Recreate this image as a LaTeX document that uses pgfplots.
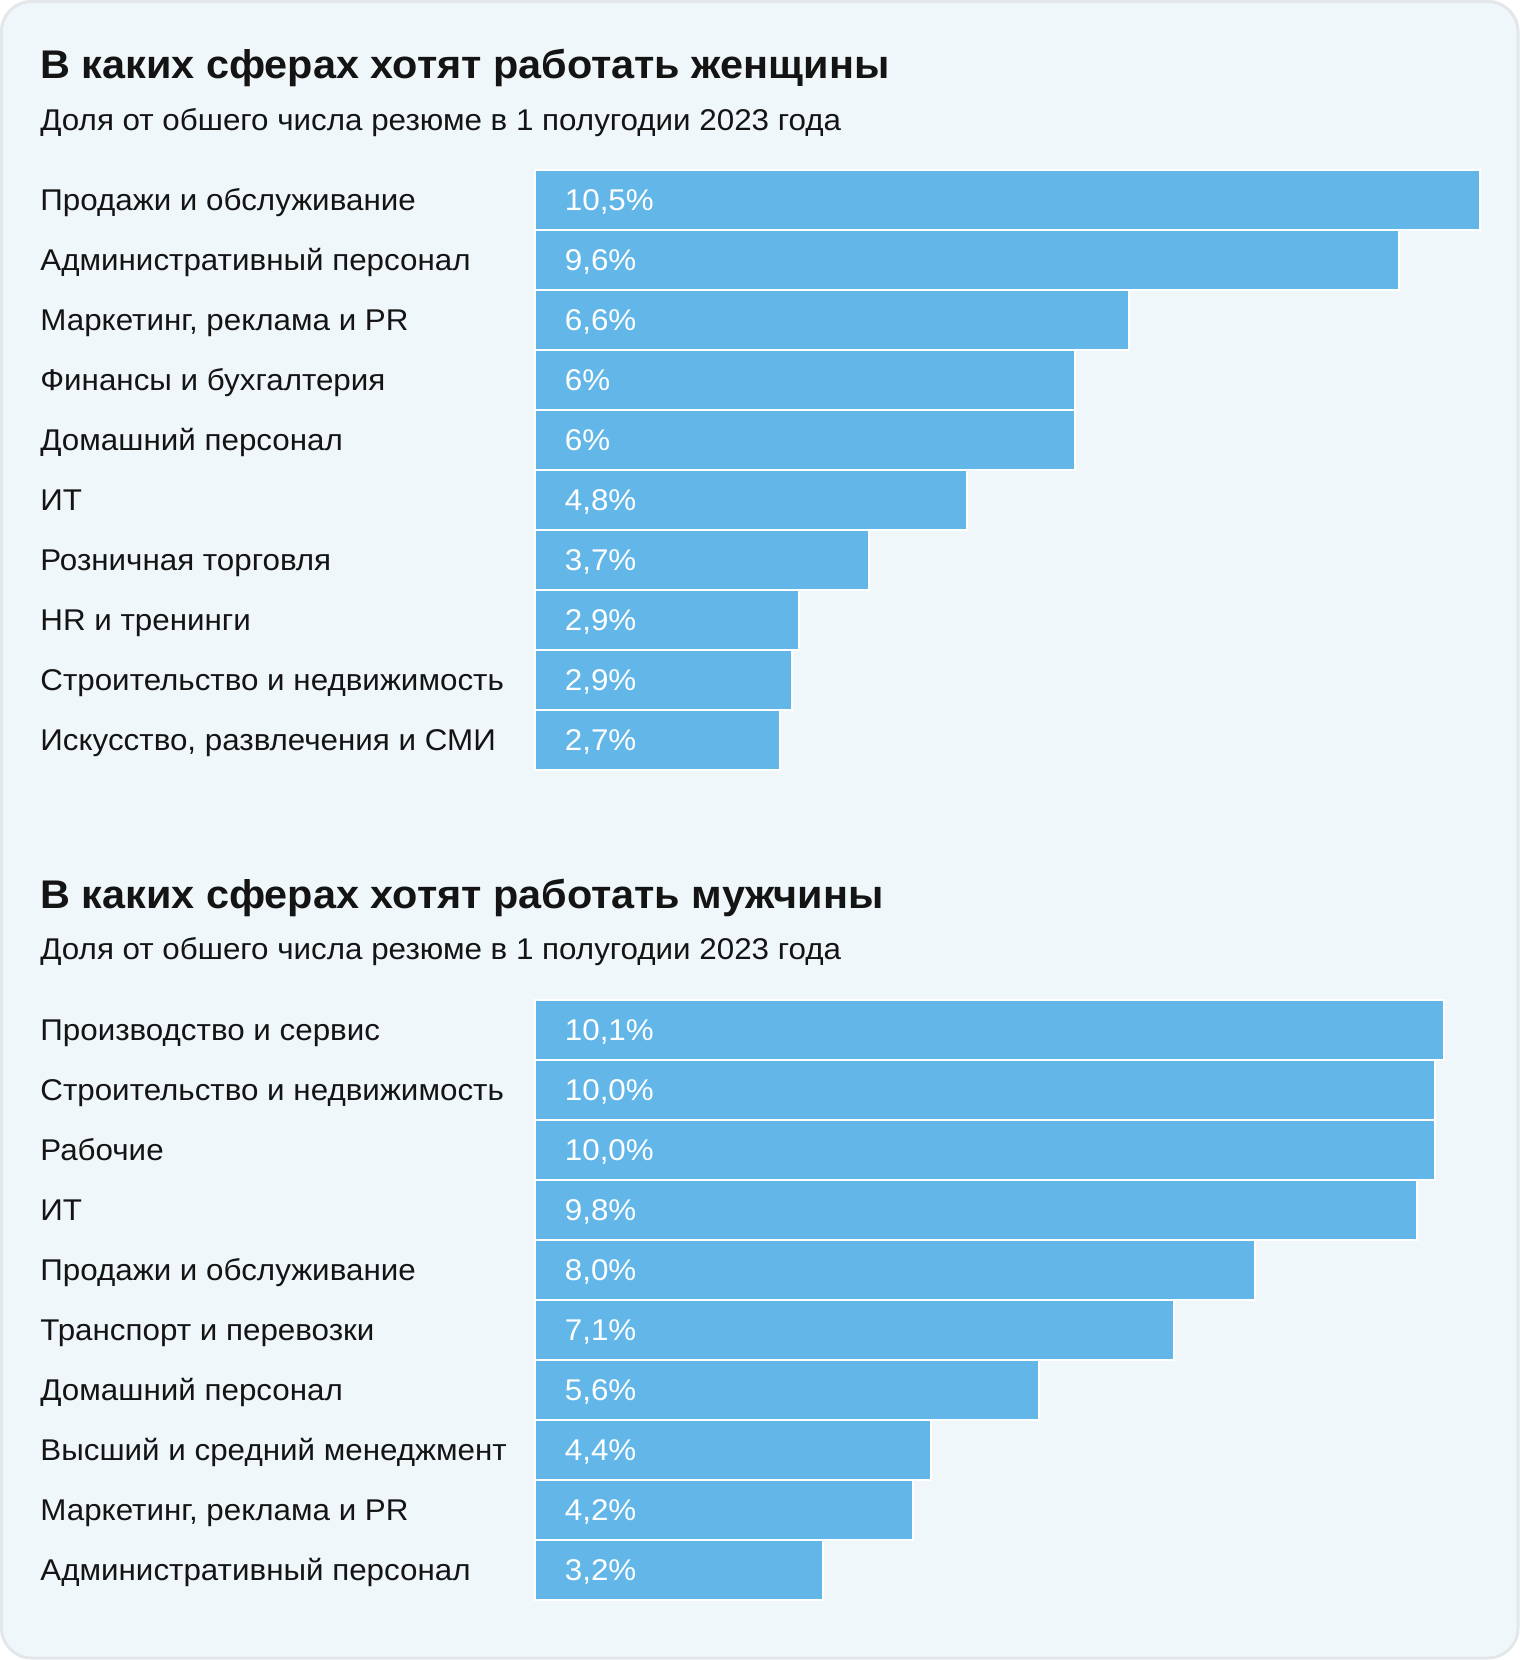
\documentclass[border=0pt]{standalone}
\usepackage{pgfplots}
\pgfplotsset{compat=1.18}
\usepackage{pgfplotstable}
\usepackage{fontspec}
\setmainfont{Liberation Sans}
\newfontfamily\labfont[FakeStretch=1.045]{Liberation Sans}
\newfontfamily\titfont[FakeStretch=1.035]{Liberation Sans}
\definecolor{barc}{HTML}{63B7E8}
\definecolor{bg}{HTML}{EFF7FA}
\definecolor{framec}{HTML}{E3E7EA}
\definecolor{txt}{HTML}{141414}

\pgfplotstableread[col sep=semicolon, row sep=\\]{
idx;val;lab;name\\
1;10.5;10,5\%;Продажи и обслуживание\\
2;9.6;9,6\%;Административный персонал\\
3;6.6;6,6\%;Маркетинг, реклама и PR\\
4;6.01;6\%;Финансы и бухгалтерия\\
5;6.0;6\%;Домашний персонал\\
6;4.8;4,8\%;ИТ\\
7;3.72;3,7\%;Розничная торговля\\
8;2.94;2,9\%;HR и тренинги\\
9;2.86;2,9\%;Строительство и недвижимость\\
10;2.73;2,7\%;Искусство, развлечения и СМИ\\
}\women

\pgfplotstableread[col sep=semicolon, row sep=\\]{
idx;val;lab;name\\
1;10.1;10,1\%;Производство и сервис\\
2;10.0;10,0\%;Строительство и недвижимость\\
3;10.0;10,0\%;Рабочие\\
4;9.8;9,8\%;ИТ\\
5;8.0;8,0\%;Продажи и обслуживание\\
6;7.1;7,1\%;Транспорт и перевозки\\
7;5.6;5,6\%;Домашний персонал\\
8;4.4;4,4\%;Высший и средний менеджмент\\
9;4.2;4,2\%;Маркетинг, реклама и PR\\
10;3.2;3,2\%;Административный персонал\\
}\men

\pgfplotsset{
  hbarstyle/.style={
    anchor=north west,
    scale only axis, width=472.5bp, height=300bp,
    xmin=0, xmax=10.5, ymin=0.5, ymax=10.5, y dir=reverse,
    axis line style={draw=none}, xtick=\empty, ytick={1,...,10},
    major tick length=0pt,
    yticklabel style={anchor=base west, xshift=-247.25bp, yshift=-5.2bp,
      inner sep=0pt, text=txt, font=\labfont\fontsize{15bp}{18bp}\selectfont},
    clip=false,
  },
  barplot/.style={xbar, bar width=30bp, bar shift=0pt, fill=barc, draw=white, line width=1bp},
  valplot/.style={draw=none, mark=none, nodes near coords, point meta=explicit symbolic,
    every node near coord/.append style={anchor=base west, xshift=15bp, yshift=-5.2bp,
      inner sep=0pt, text=white, font=\labfont\fontsize{15bp}{18bp}\selectfont}},
}

\begin{document}
\begin{tikzpicture}
\useasboundingbox (0,0) rectangle (760bp,-830bp);
\fill[white] (0,0) rectangle (760bp,-830bp);
\draw[fill=bg, draw=framec, line width=1.5bp, rounded corners=15bp] (0.75bp,-0.75bp) rectangle (759bp,-829bp);

\node[anchor=base west, inner sep=0pt, text=txt, font=\titfont\bfseries\fontsize{20bp}{24bp}\selectfont] at (20bp,-39bp) {В каких сферах хотят работать женщины};
\node[anchor=base west, inner sep=0pt, text=txt, font=\labfont\fontsize{15bp}{18bp}\selectfont] at (20bp,-65bp) {Доля от обшего числа резюме в 1 полугодии 2023 года};

\node[anchor=base west, inner sep=0pt, text=txt, font=\titfont\bfseries\fontsize{20bp}{24bp}\selectfont] at (20bp,-454bp) {В каких сферах хотят работать мужчины};
\node[anchor=base west, inner sep=0pt, text=txt, font=\labfont\fontsize{15bp}{18bp}\selectfont] at (20bp,-479.5bp) {Доля от обшего числа резюме в 1 полугодии 2023 года};

\begin{axis}[hbarstyle, at={(267.25bp,-85bp)}, yticklabels from table={\women}{name}]
\addplot[barplot] table[x=val, y=idx]{\women};
\addplot[valplot] table[x expr=0, y=idx, meta=lab]{\women};
\end{axis}

\begin{axis}[hbarstyle, at={(267.25bp,-500bp)}, yticklabels from table={\men}{name}]
\addplot[barplot] table[x=val, y=idx]{\men};
\addplot[valplot] table[x expr=0, y=idx, meta=lab]{\men};
\end{axis}
\end{tikzpicture}
\end{document}
